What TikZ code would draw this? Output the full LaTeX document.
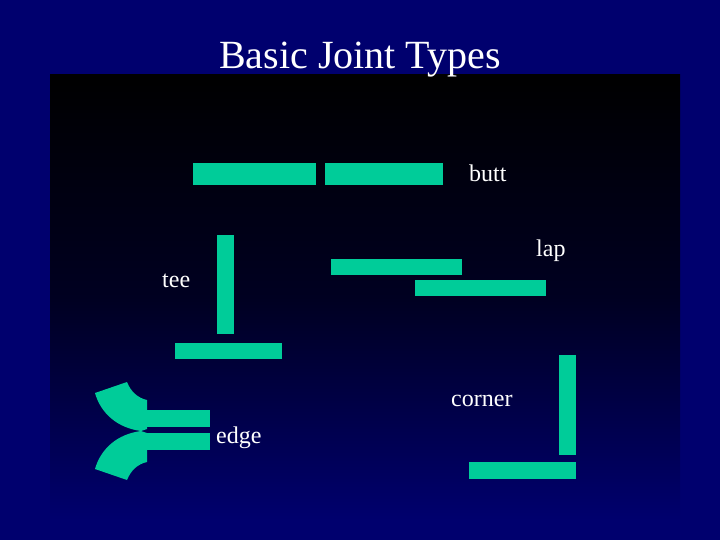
\documentclass[tikz,border=0pt]{standalone}
\usepackage{fontspec}
\setmainfont{Liberation Serif}
\definecolor{bar}{RGB}{0,204,153}
\definecolor{navy}{RGB}{0,0,110}
\begin{document}
\begin{tikzpicture}[x=1pt,y=-1pt,
  piece/.style={fill=bar,draw=none},
  lbl/.style={font=\fontsize{24}{24}\selectfont,text=white,inner sep=0pt}]
\useasboundingbox (0,0) rectangle (720,540);
\fill[navy] (0,0) rectangle (720,540);
\shade[top color=black,bottom color=navy,middle color=black!70!navy] (50,75) rectangle (680,520);
\node[lbl,font=\fontsize{40}{40}\selectfont] (title) at (360,60) {Basic Joint Types};
% butt
\fill[piece] (193,163) rectangle (316,185);
\fill[piece] (325,163) rectangle (443,185);
\node[lbl,anchor=west] (butt) at (469,173) {butt};
% tee
\fill[piece] (217,235) rectangle (234,334);
\fill[piece] (175,343) rectangle (282,359);
\node[lbl,anchor=west] (tee) at (162,281) {tee};
% lap
\fill[piece] (331,259) rectangle (462,275);
\fill[piece] (415,280) rectangle (546,296);
\node[lbl,anchor=west] (lap) at (536,251) {lap};
% corner
\fill[piece] (559,355) rectangle (576,455);
\fill[piece] (469,462) rectangle (576,479);
\node[lbl,anchor=west] (corner) at (451,401) {corner};
% edge
\fill[piece] (146,410) rectangle (210,427);
\fill[piece] (146,433) rectangle (210,450);
\fill[piece] (95,393) -- (127,382) .. controls (131,392) and (138,398) .. (147,400) -- (147,429) -- (141,431) .. controls (118,428) and (101,414) .. (95,393) -- cycle;
\fill[piece] (95,469) -- (127,480) .. controls (131,470) and (138,464) .. (147,462) -- (147,433) -- (141,431) .. controls (118,434) and (101,448) .. (95,469) -- cycle;
\node[lbl,anchor=west] (edge) at (216,438) {edge};
\end{tikzpicture}
\end{document}
